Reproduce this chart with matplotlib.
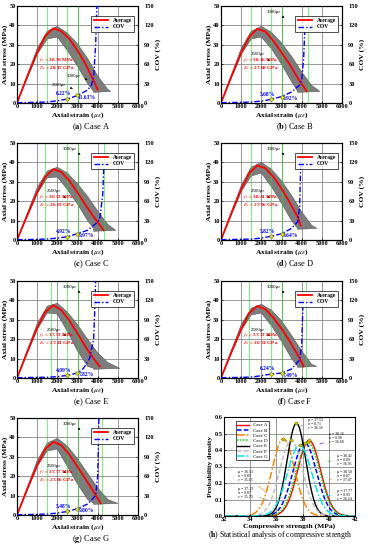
import numpy as np
import matplotlib
matplotlib.use("Agg")
import matplotlib.pyplot as plt
from matplotlib.lines import Line2D

plt.rcParams["font.family"] = ["Liberation Serif", "DejaVu Serif"]
plt.rcParams["mathtext.fontset"] = "stix"

CASES = ["A", "B", "C", "D", "E", "F", "G"]
FC = [38.50, 38.16, 36.53, 38.41, 37.53, 37.13, 37.77]
EC = [28.17, 27.68, 26.63, 27.96, 27.41, 26.74, 27.06]

# average stress-strain curves (strain in micro-strain, stress in MPa)
AVG_EPS = [0, 500, 1000, 1400, 1800, 2200, 2600, 3000, 3400, 3800]
AVG_SIG = [
    [0, 13.5, 26.0, 34.5, 38.5, 37.0, 33.0, 27.0, 20.0, 11.5],
    [0, 13.3, 25.8, 34.2, 38.2, 36.8, 32.0, 26.0, 20.0, 13.0],
    [0, 12.5, 24.5, 32.5, 36.5, 35.0, 30.5, 24.5, 18.0, 12.0],
    [0, 13.5, 26.0, 34.5, 38.4, 37.0, 32.5, 26.5, 19.5, 12.0],
    [0, 13.2, 25.8, 34.0, 37.5, 35.0, 29.5, 23.0, 16.0, 10.0],
    [0, 13.0, 25.0, 33.5, 37.1, 35.5, 31.0, 25.5, 19.0, 12.0],
    [0, 13.2, 25.5, 34.0, 37.7, 36.0, 31.0, 25.0, 18.5, 12.0],
]
AVG_END_EPS = [4000, 4250, 4300, 3950, 4100, 4100, 4150]
AVG_END_SIG = [7.0, 6.0, 5.0, 7.5, 6.0, 6.0, 6.0]

# envelope of the individual simulated curves
UP_EPS = [0, 1000, 1500, 2000, 2500, 3000, 3500, 4000, 4500]
UP_SIG = [
    [0, 28.0, 37.0, 39.5, 36.0, 30.5, 23.0, 14.0, 7.0],
    [0, 28.0, 37.0, 39.5, 36.5, 31.0, 24.0, 16.0, 9.0],
    [0, 27.0, 35.5, 37.5, 34.5, 29.0, 22.5, 15.0, 8.0],
    [0, 28.0, 37.5, 40.0, 36.5, 30.5, 23.0, 14.5, 7.5],
    [0, 28.0, 37.0, 38.5, 34.0, 27.5, 20.0, 13.0, 8.0],
    [0, 27.5, 36.0, 38.0, 35.0, 29.5, 22.0, 14.0, 7.0],
    [0, 28.0, 37.0, 39.5, 35.5, 29.0, 21.5, 14.0, 8.0],
]
TAIL_EPS = [4650, 4900, 4900, 4750, 5100, 4750, 5000]
TAIL_SIG = [6.0, 6.0, 5.0, 6.0, 5.0, 6.0, 6.0]
LO_EPS = [0, 1000, 1500, 2000, 2500, 3000, 3500, 3800]
LO_SIG = [
    [0, 25.0, 33.0, 34.0, 27.0, 19.0, 10.0, 6.0],
    [0, 25.0, 33.0, 34.0, 28.0, 20.0, 11.0, 6.0],
    [0, 24.0, 32.0, 32.5, 26.0, 18.5, 10.0, 6.0],
    [0, 25.0, 33.0, 34.5, 27.5, 19.0, 10.0, 6.0],
    [0, 25.0, 33.5, 33.0, 24.0, 14.0, 6.0, 5.0],
    [0, 24.5, 32.5, 33.5, 27.0, 19.0, 10.0, 6.0],
    [0, 25.0, 33.0, 34.0, 25.0, 16.0, 8.0, 6.0],
]

# coefficient of variation curves
COV_EPS = [
    [0, 1000, 1500, 2000, 2500, 3000, 3500, 3700, 3800, 3900, 3960],
    [0, 1000, 1500, 2000, 2500, 3000, 3500, 3900, 4000, 4100, 4150],
    [0, 1000, 1500, 2000, 2500, 3000, 3500, 3900, 4100, 4250, 4300],
    [0, 1000, 1500, 2000, 2500, 3000, 3500, 3800, 3900, 3930, 3960],
    [0, 1000, 1500, 2000, 2500, 3000, 3300, 3600, 3800, 3850, 3900],
    [0, 1000, 1500, 2000, 2500, 3000, 3500, 3900, 4000, 4030, 4060],
    [0, 1000, 1500, 2000, 2500, 3000, 3500, 3900, 4000, 4030, 4060],
]
COV_VAL = [
    [0.5, 1.0, 1.5, 3.5, 6.22, 11.63, 20.0, 28.0, 40.0, 90.0, 150.0],
    [0.5, 1.0, 1.5, 3.0, 5.68, 9.92, 17.0, 28.0, 35.0, 70.0, 110.0],
    [0.5, 1.0, 1.5, 3.0, 4.92, 9.97, 15.0, 25.0, 32.0, 70.0, 110.0],
    [0.5, 1.0, 1.5, 3.0, 5.82, 9.64, 18.0, 28.0, 50.0, 90.0, 130.0],
    [0.5, 1.0, 1.2, 2.0, 4.09, 7.82, 15.0, 30.0, 60.0, 100.0, 150.0],
    [0.5, 1.0, 1.5, 3.5, 6.24, 7.49, 14.0, 28.0, 50.0, 80.0, 110.0],
    [0.5, 1.0, 1.5, 3.0, 5.48, 9.80, 17.0, 30.0, 60.0, 100.0, 150.0],
]
COV_LABELS = [
    ["6.22%", "11.63%"], ["5.68%", "9.92%"], ["4.92%", "9.97%"],
    ["5.82%", "9.64%"], ["4.09%", "7.82%"], ["6.24%", "7.49%"],
    ["5.48%", "9.80%"],
]
GREEN_LINES = [
    [1500, 2500, 3000],
    [1500, 2500, 3000, 4300],
    [1400, 2500, 3000, 4300],
    [1500, 2500, 3000],
    [1700, 2500, 3000],
    [1400, 2500, 3000, 4200],
    [1500, 2500, 3000, 4200],
]

# statistical analysis (panel h)
MU = [38.50, 38.16, 36.53, 38.41, 37.53, 37.13, 37.77]
SIGMA = [0.87, 0.90, 0.85, 0.89, 0.71, 0.87, 0.93]
NU = [37.07, 36.68, 35.13, 36.95, 36.36, 35.70, 36.24]
H_COLORS = ["#ff0000", "#0000ff", "#ff8000", "#00dd00", "#000000", "#c0c0c0", "#00e5ee"]
H_STYLES = ["-", (0, (3, 1.5)), (0, (5, 1.5, 1, 1.5)), (0, (1, 1)),
            "-", (0, (3, 1.5)), (0, (5, 1.5, 1, 1.5))]

W, H = 374, 550
ROW_TOP = [6, 143, 281, 418]
COL_LEFT = [17, 221]
AX_W, AX_H = 121, 97
TICK_FS = 4.6
LABEL_FS = 5.4


def px_rect(x0, top, w, h):
    return [x0 / W, 1 - (top + h) / H, w / W, h / H]


fig = plt.figure(figsize=(W / 100, H / 100), dpi=100)

for i, case in enumerate(CASES):
    row, col = divmod(i, 2)
    ax = fig.add_axes(px_rect(COL_LEFT[col], ROW_TOP[row], AX_W, AX_H))
    ax2 = ax.twinx()

    ax.set_xlim(0, 6000)
    ax.set_ylim(0, 50)
    ax2.set_ylim(0, 150)
    ax.set_xticks(range(0, 6001, 1000))
    ax.set_yticks(range(0, 51, 10))
    ax2.set_yticks(range(0, 151, 30))
    ax.grid(True, color="#707070", linewidth=0.5)
    ax.set_axisbelow(True)
    ax.tick_params(labelsize=TICK_FS, width=0.5, length=1.5, pad=1, direction="in")
    ax2.tick_params(labelsize=TICK_FS, width=0.5, length=1.5, pad=4.5, direction="in")
    for a in (ax, ax2):
        for lab in a.get_xticklabels() + a.get_yticklabels():
            lab.set_fontweight("bold")
        for s in a.spines.values():
            s.set_linewidth(0.8)

    # band of simulated curves
    bx = UP_EPS + [TAIL_EPS[i], LO_EPS[-1]] + LO_EPS[::-1]
    by = UP_SIG[i] + [TAIL_SIG[i], TAIL_SIG[i] - 0.5] + LO_SIG[i][::-1]
    ax.fill(bx, by, color="#7d7d7d", edgecolor="#555555", linewidth=0.4, zorder=2)

    for gx in GREEN_LINES[i]:
        ax.axvline(gx, color="#22dd22", linestyle=(0, (1, 0.8)), linewidth=0.8, zorder=3)

    ax.plot(AVG_EPS + [AVG_END_EPS[i]], AVG_SIG[i] + [AVG_END_SIG[i]],
            color="red", linewidth=1.3, zorder=4)

    ax2.plot(COV_EPS[i], COV_VAL[i], color="blue", linewidth=1.0,
             linestyle=(0, (4, 1.5, 1, 1.5)), zorder=5)
    ax2.plot(COV_EPS[i][4:6], COV_VAL[i][4:6], linestyle="none", marker="o",
             markersize=2.5, markerfacecolor="#e6e600", markeredgecolor="#666600",
             markeredgewidth=0.4, zorder=6)
    ax2.text(2300, COV_VAL[i][4] + 8, COV_LABELS[i][0], color="blue",
             fontsize=4, fontweight="bold", ha="center", va="center")
    ax2.text(3450, COV_VAL[i][5] - 3, COV_LABELS[i][1], color="blue",
             fontsize=4, fontweight="bold", ha="center", va="center")

    ax.text(1100, 20, f"$f_c$ = {FC[i]:.2f} MPa\n$E_c$ = {EC[i]:.2f} GPa",
            color="red", fontsize=3.8, fontweight="bold", ha="left", va="center",
            linespacing=1.1, zorder=7)

    if case == "A":
        ax.annotate("3000με", xy=(3500, 12), xytext=(2800, 14), fontsize=3.5,
                    ha="center", va="center",
                    arrowprops=dict(arrowstyle="-|>", lw=0.4, color="black",
                                    mutation_scale=3))
        ax.annotate("2500με", xy=(2900, 7), xytext=(2100, 9.5), fontsize=3.5,
                    ha="center", va="center",
                    arrowprops=dict(arrowstyle="-|>", lw=0.4, color="black",
                                    mutation_scale=3))
    else:
        ax.annotate("3000με", xy=(3150, 44), xytext=(2600, 47), fontsize=3.5,
                    ha="center", va="center",
                    arrowprops=dict(arrowstyle="-|>", lw=0.4, color="black",
                                    mutation_scale=3))
        ax.annotate("2500με", xy=(2550, 21), xytext=(1850, 25), fontsize=3.5,
                    ha="center", va="center",
                    arrowprops=dict(arrowstyle="-|>", lw=0.4, color="black",
                                    mutation_scale=3))

    handles = [Line2D([], [], color="red", linewidth=1.3),
               Line2D([], [], color="blue", linewidth=1.0,
                      linestyle=(0, (4, 1.5, 1, 1.5)))]
    leg = ax2.legend(handles, ["Average", "COV"], loc="upper right",
                     bbox_to_anchor=(0.99, 0.93), fontsize=4, frameon=True,
                     fancybox=False, edgecolor="black", handlelength=2.6,
                     borderpad=0.4, labelspacing=0.3)
    leg.get_frame().set_linewidth(0.6)
    for t in leg.get_texts():
        t.set_fontweight("bold")

    ax.set_xlabel("Axial strain ($\\mu\\varepsilon$)", fontsize=LABEL_FS,
                  fontweight="bold", labelpad=0.5)
    ax.set_ylabel("Axial stress (MPa)", fontsize=LABEL_FS, fontweight="bold",
                  labelpad=1)
    ax2.set_ylabel("COV (%)", fontsize=LABEL_FS, fontweight="bold", labelpad=1)

    cx = (COL_LEFT[col] + 74) / W
    cy = 1 - (ROW_TOP[row] + 121) / H
    fig.text(cx, cy, f"(${{\\bf {case.lower()}}}$) Case {case}", fontsize=6,
             ha="center", va="center")

# panel h
axh = fig.add_axes(px_rect(224, 417, 131, 99))
xs = np.linspace(32, 42, 600)
for i, case in enumerate(CASES):
    pdf = np.exp(-0.5 * ((xs - MU[i]) / SIGMA[i]) ** 2) / (SIGMA[i] * np.sqrt(2 * np.pi))
    lw = 1.0 if H_STYLES[i] == "-" else 1.1
    axh.plot(xs, pdf, color=H_COLORS[i], linestyle=H_STYLES[i], linewidth=lw,
             label=f"Case {case}")
    peak = 1 / (SIGMA[i] * np.sqrt(2 * np.pi))
    axh.plot([MU[i]], [peak], linestyle="none", marker="o", markersize=2.2,
             markerfacecolor="#cccc00", markeredgecolor="#666600",
             markeredgewidth=0.3, zorder=6)

axh.set_xlim(32, 42)
axh.set_ylim(0, 0.6)
axh.set_xticks(range(32, 43, 2))
axh.set_yticks(np.arange(0, 0.61, 0.1))
axh.yaxis.set_major_formatter(plt.FuncFormatter(lambda v, _: f"{v:.1f}"))
axh.grid(True, color="#707070", linewidth=0.5)
axh.set_axisbelow(True)
axh.tick_params(labelsize=TICK_FS, width=0.5, length=1.5, pad=1, direction="in")
for lab in axh.get_xticklabels() + axh.get_yticklabels():
    lab.set_fontweight("bold")
for s in axh.spines.values():
    s.set_linewidth(0.8)
axh.set_xlabel("Compressive strength (MPa)", fontsize=LABEL_FS, fontweight="bold",
               labelpad=0.5)
axh.set_ylabel("Probability density", fontsize=LABEL_FS, fontweight="bold",
               labelpad=1)
legh = axh.legend(loc="upper left", bbox_to_anchor=(0.07, 0.98), fontsize=3.6,
                  frameon=True, fancybox=False, edgecolor="black",
                  handlelength=2.4, borderpad=0.3, labelspacing=0.15)
legh.get_frame().set_linewidth(0.6)

# label positions for the mu/sigma/nu boxes in panel h
H_TXT = [(40.6, 0.24), (40.0, 0.47), (33.1, 0.24), (40.6, 0.34),
         (38.4, 0.56), (33.1, 0.14), (40.6, 0.13)]
H_ARROW = [(39.9, 0.22), (39.1, 0.43), (35.3, 0.14), (39.7, 0.33),
           (37.9, 0.55), (35.6, 0.09), (39.3, 0.12)]
for i in range(len(CASES)):
    axh.annotate(f"μ = {MU[i]:.2f}\nσ = {SIGMA[i]:.2f}\nν = {NU[i]:.2f}",
                 xy=H_ARROW[i], xytext=H_TXT[i], fontsize=2.8, ha="left",
                 va="center", linespacing=1.0,
                 arrowprops=dict(arrowstyle="-", lw=0.4, color=H_COLORS[i]
                                 if H_COLORS[i] != "#c0c0c0" else "#999999"))

fig.text(280 / W, 1 - 535 / H,
         "(${\\bf h}$) Statistical analysis of compressive strength", fontsize=5.5,
         ha="center", va="center")

fig.savefig("out.png", dpi=100)
